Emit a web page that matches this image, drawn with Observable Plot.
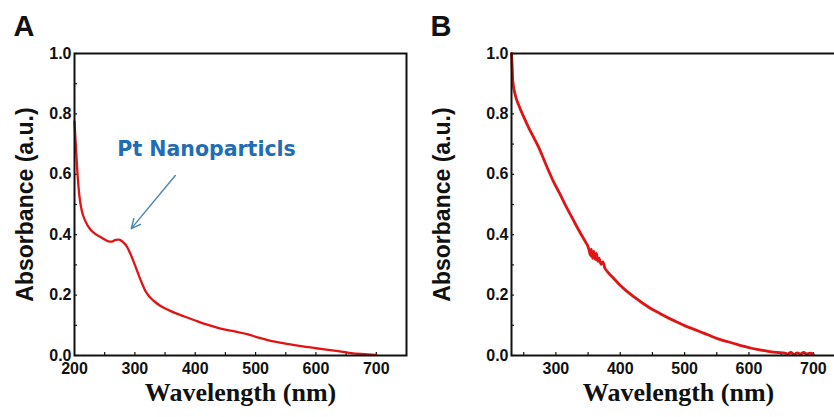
<!DOCTYPE html>
<html>
<head>
<meta charset="utf-8">
<script src="https://cdn.jsdelivr.net/npm/d3@7"></script>
<script src="https://cdn.jsdelivr.net/npm/@observablehq/plot@0.6"></script>
<style>
  html, body { margin: 0; padding: 0; background: #fff; }
  #wrap { width: 834px; height: 417px; overflow: hidden; display: flex; flex-direction: row; }
  #wrap svg { flex: none; }
</style>
</head>
<body>
<div id="wrap"></div>
<script>
// ---- Panel A data: Pt nanoparticles absorbance ----
const wavelengthA = [200,202,205,208,212,218,226,235,245,255,262,268,274,280,287,293,300,306,312,318,325,333,342,353,365,381,400,420,442,465,486,505,520,540,560,575,600,630,655,675,700];
const absorbanceA = [0.775,0.70,0.60,0.53,0.48,0.445,0.418,0.402,0.390,0.379,0.377,0.383,0.384,0.376,0.360,0.335,0.300,0.268,0.238,0.212,0.193,0.178,0.165,0.153,0.142,0.130,0.116,0.102,0.089,0.080,0.071,0.059,0.051,0.043,0.036,0.031,0.024,0.016,0.009,0.005,0.002];

// ---- Panel B data ----
const wavelengthB = [231,232,233,236,242,250,258,266,274,282,290,298,305,315,326,336,346,350,352,354,355,357,359,361,363,365,367,370,373,376,380,390,399,410,422,435,448,461,474,487,500,513,526,539,552,565,578,591,604,617,630,643,656,660,665,670,675,680,685,690,695,700];
const absorbanceB = [1.0,0.96,0.91,0.87,0.83,0.79,0.753,0.72,0.686,0.645,0.605,0.568,0.54,0.497,0.453,0.413,0.376,0.36,0.345,0.33,0.352,0.322,0.345,0.318,0.338,0.312,0.322,0.302,0.31,0.29,0.278,0.255,0.234,0.213,0.193,0.173,0.155,0.14,0.125,0.112,0.099,0.088,0.077,0.066,0.055,0.047,0.039,0.031,0.024,0.019,0.014,0.010,0.008,0.005,0.010,0.004,0.009,0.005,0.010,0.005,0.008,0.004];

// ---- Axes / ticks ----
const xDomainA = [200, 750];
const xDomainB = [231, 750];
const yDomain = [0, 1];
const yTickLabels = [0, 0.2, 0.4, 0.6, 0.8, 1.0];
const yTickMarks = [0, 0.1, 0.2, 0.3, 0.4, 0.5, 0.6, 0.7, 0.8, 0.9, 1.0];
const xTickLabelsA = [200, 300, 400, 500, 600, 700];
const xTickMarksA = [250, 300, 350, 400, 450, 500, 550, 600, 650, 700];
const xTickLabelsB = [300, 400, 500, 600, 700];
const xTickMarksB = [250, 300, 350, 400, 450, 500, 550, 600, 650, 700];

// ---- Annotation (panel A) ----
const annotationText = ["Pt Nanoparticls"];
const annotationPos = [271, 0.662];          // [nm, absorbance] baseline start of label
const arrowA = [{x1: 367, y1: 0.596, x2: 294, y2: 0.42}];

const panelLetters = ["A", "B"];
const xLabel = "Wavelength (nm)";
const yLabel = "Absorbance (a.u.)";

const RED = "#e01414";
const tickFont = "Liberation Sans, Arial, sans-serif";

function panel({wl, ab, xDomain, xTickLabels, xTickMarks, letter, width, marginLeft, marginRight, lineWidth, extra = []}) {
  const data = wl.map((w, i) => ({w, a: ab[i]}));
  return Plot.plot({
    width, height: 417,
    marginLeft, marginRight, marginTop: 53, marginBottom: 62,
    style: {fontFamily: tickFont, fontSize: "16px", fontWeight: "bold", color: "#111", background: "#fff", overflow: "hidden"},
    x: {domain: xDomain},
    y: {domain: yDomain},
    marks: [
      // inward tick marks
      Plot.axisY(yTickMarks, {anchor: "left", tickSize: 3, dx: 3, text: null, label: null, strokeWidth: 1.2}),
      Plot.axisX(xTickMarks, {anchor: "bottom", tickSize: 3, dy: -3, text: null, label: null, strokeWidth: 1.2}),
      // tick labels
      Plot.axisY(yTickLabels, {anchor: "left", tickSize: 0, tickPadding: 3, tickFormat: d3.format(".1f"), label: null, fontSize: 16}),
      Plot.axisX(xTickLabels, {anchor: "bottom", tickSize: 0, tickPadding: 7, label: null, fontSize: 16}),
      Plot.line(data, {x: "w", y: "a", stroke: RED, strokeWidth: lineWidth, curve: "monotone-x"}),
      Plot.frame({stroke: "#111", strokeWidth: 2}),
      ...extra,
      Plot.text([xLabel], {frameAnchor: "bottom", textAnchor: "middle", dy: 45, fontFamily: "Liberation Serif, Times New Roman, serif", fontWeight: "bold", fontSize: 26, fill: "#111"}),
      Plot.text([yLabel], {frameAnchor: "left", textAnchor: "middle", dx: -(marginLeft - 25), rotate: -90, fontFamily: "Liberation Sans, Arial, sans-serif", fontWeight: "bold", fontSize: 23, fill: "#111"}),
      Plot.text([letter], {frameAnchor: "top-left", dx: -(marginLeft - 13), dy: -18, textAnchor: "start", lineAnchor: "bottom", fontFamily: "Liberation Sans, Arial, sans-serif", fontWeight: "bold", fontSize: 29, fill: "#111"})
    ]
  });
}

const chartA = panel({
  wl: wavelengthA, ab: absorbanceA, xDomain: xDomainA,
  xTickLabels: xTickLabelsA, xTickMarks: xTickMarksA,
  letter: panelLetters[0], width: 417, marginLeft: 74, marginRight: 11, lineWidth: 2.3,
  extra: [
    Plot.arrow(arrowA, {x1: "x1", y1: "y1", x2: "x2", y2: "y2", stroke: "#4a86b8", strokeWidth: 1.4, headLength: 11, headAngle: 50}),
    Plot.text(annotationText, {x: () => annotationPos[0], y: () => annotationPos[1], textAnchor: "start", lineAnchor: "bottom", fontFamily: "DejaVu Sans, sans-serif", fontWeight: "bold", fontSize: 20.5, fill: "#1f6db5"})
  ]
});

const chartB = panel({
  wl: wavelengthB, ab: absorbanceB, xDomain: xDomainB,
  xTickLabels: xTickLabelsB, xTickMarks: xTickMarksB,
  letter: panelLetters[1], width: 430, marginLeft: 94, marginRight: 2, lineWidth: 2.8
});

const wrap = document.getElementById("wrap");
wrap.appendChild(chartA);
wrap.appendChild(chartB);
</script>
</body>
</html>
